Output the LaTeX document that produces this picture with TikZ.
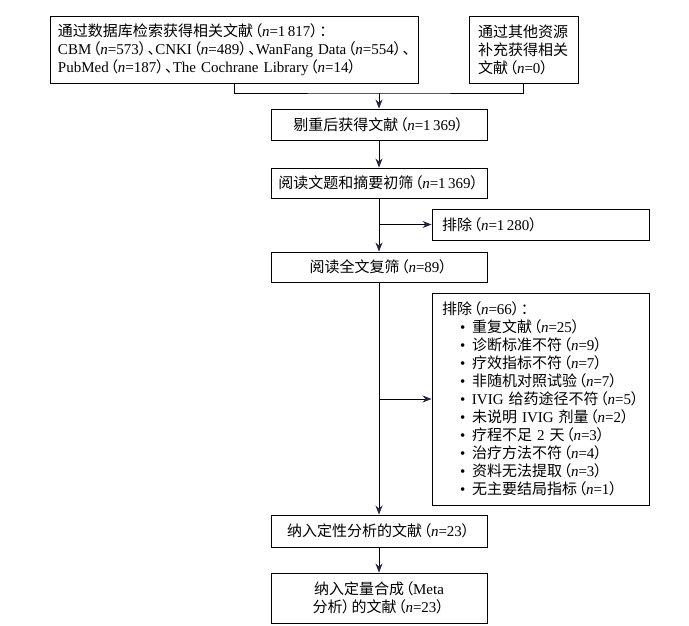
\documentclass[tikz,border=0pt]{standalone}
\usepackage{fontspec}
\setmainfont{Liberation Serif}
\newfontfamily\latf{Liberation Serif}
\newfontfamily\cjk[RawFeature=+palt]{Noto Sans CJK SC}
\usetikzlibrary{arrows.meta}
\definecolor{tipc}{RGB}{38,34,68}
\newcommand\nn[1]{\kern1.5bp（{\latf\textit{n}=#1}）\kern1.5bp}
\newcommand\lt[1]{{\latf #1}}
\newcommand\bl{\hspace*{18bp}\makebox[12bp][l]{\lt{•}}}
\begin{document}
\begin{tikzpicture}[x=1bp,y=-1bp,
  box/.style={draw,line width=0.9bp,inner sep=0pt,font=\cjk\fontsize{15bp}{18bp}\selectfont,anchor=center},
  cbox/.style={box,minimum width=216bp,align=center},
  lbox/.style={box,align=left},
  conn/.style={line width=0.9bp},
  arr/.style={conn,-{Stealth[length=9bp,width=7bp,color=tipc]}}]
\useasboundingbox (0,0) rectangle (689,626);

\node[lbox,text width=352bp,inner xsep=8bp,minimum height=67bp] (db) at (234,49.5)
  {通过数据库检索获得相关文献\nn{1\,817}：\\
   \lt{CBM}\nn{573}、\lt{CNKI}\nn{489}、\lt{WanFang~Data}\nn{554}、\\
   \lt{PubMed}\nn{187}、\lt{The~Cochrane~Library}\nn{14}};
\node[lbox,text width=91bp,inner xsep=9bp,minimum height=67bp] (other) at (523.5,49.5)
  {通过其他资源\\补充获得相关\\文献\nn{0}};
\node[cbox,minimum height=31bp] (dedup) at (379,124.5) {剔重后获得文献\nn{1\,369}};
\node[cbox,minimum height=30bp] (screen) at (379,183) {阅读文题和摘要初筛\nn{1\,369}};
\node[lbox,text width=197bp,inner xsep=10bp,minimum height=31bp] (ex1) at (540.5,224.5) {排除\nn{1\,280}};
\node[cbox,minimum height=30bp] (full) at (379,267) {阅读全文复筛\nn{89}};
\node[lbox,text width=197bp,inner xsep=10bp,minimum height=212bp] (ex2) at (540.5,399)
  {排除\nn{66}：\\
   \bl 重复文献\nn{25}\\
   \bl 诊断标准不符\nn{9}\\
   \bl 疗效指标不符\nn{7}\\
   \bl 非随机对照试验\nn{7}\\
   \bl \lt{IVIG}~给药途径不符\nn{5}\\
   \bl 未说明~\lt{IVIG}~剂量\nn{2}\\
   \bl 疗程不足~\lt{2}~天\nn{3}\\
   \bl 治疗方法不符\nn{4}\\
   \bl 资料无法提取\nn{3}\\
   \bl 无主要结局指标\nn{1}};
\node[cbox,minimum height=32bp] (qual) at (379,531) {纳入定性分析的文献\nn{23}};
\node[cbox,minimum height=50bp] (meta) at (379,598) {纳入定量合成\kern1.5bp（\lt{Meta}\\分析）\kern1.5bp 的文献\nn{23}};

\coordinate (j) at (379,93);
\draw[conn] (db.south) |- (j) -| (other.south);
\draw[arr] (j) -- (dedup.north);
\draw[arr] (dedup) -- (screen);
\draw[arr] (screen) -- (full);
\coordinate (b1) at (screen.south |- ex1.west);
\draw[arr] (b1) -- (ex1.west);
\draw[arr] (full) -- (qual);
\coordinate (b2) at (full.south |- ex2.west);
\draw[arr] (b2) -- (ex2.west);
\draw[arr] (qual) -- (meta);
\end{tikzpicture}
\end{document}
